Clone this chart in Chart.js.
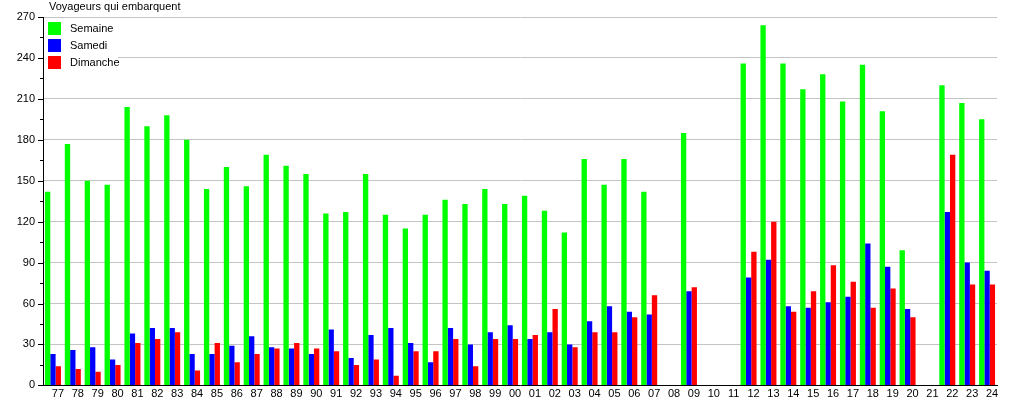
<!DOCTYPE html>
<html><head><meta charset="utf-8">
<script src="https://cdn.jsdelivr.net/npm/chart.js@4/dist/chart.umd.min.js"></script>
<style>html,body{margin:0;padding:0;background:#fff;}canvas{display:block;}</style>
</head><body>
<canvas id="c" width="1015" height="400"></canvas>
<script>
const categories = ['77','78','79','80','81','82','83','84','85','86','87','88','89','90','91','92','93','94','95','96','97','98','99',
  '00','01','02','03','04','05','06','07','08','09','10','11','12','13','14','15','16','17','18','19','20','21','22','23','24'];
const semaine = [142,177,150,147,204,190,198,180,144,160,146,169,161,155,126,127,155,125,115,125,136,133,144,
  133,139,128,112,166,147,166,142,null,185,null,null,236,264,236,217,228,208,235,201,99,null,220,207,195];
const samedi = [23,26,28,19,38,42,42,23,23,29,36,28,27,23,41,20,37,42,31,17,42,30,39,
  44,34,39,30,47,58,54,52,null,69,null,null,79,92,58,57,61,65,104,87,56,null,127,90,84];
const dimanche = [14,12,10,15,31,34,39,11,31,17,23,27,31,27,25,15,19,7,25,25,34,14,34,
  34,37,56,28,39,39,50,66,null,72,null,null,98,120,54,69,88,76,57,71,50,null,169,74,74];
const yTicks = [0,30,60,90,120,150,180,210,240,270];
const yMinorTicks = [15,45,75,105,135,165,195,225,255];
const titleText = 'Voyageurs qui embarquent';

const FONT = "'Liberation Sans', Arial, Helvetica, sans-serif";
Chart.defaults.font.family = FONT;
Chart.defaults.font.size = 11;
Chart.defaults.color = '#000';

const decor = {
  id: 'decor',
  afterDraw(chart) {
    const ctx = chart.ctx;
    const ca = chart.chartArea;
    const y = chart.scales.y;
    ctx.save();
    // axis tick marks
    ctx.strokeStyle = '#000';
    ctx.lineWidth = 1;
    ctx.beginPath();
    yTicks.forEach(v => {
      const p = Math.round(y.getPixelForValue(v)) + 0.5;
      ctx.moveTo(ca.left - 5, p); ctx.lineTo(ca.left, p);
    });
    yMinorTicks.forEach(v => {
      const p = Math.round(y.getPixelForValue(v)) + 0.5;
      ctx.moveTo(ca.left - 3, p); ctx.lineTo(ca.left, p);
    });
    ctx.stroke();
    // title
    ctx.fillStyle = '#000';
    ctx.font = '11px ' + FONT;
    ctx.textBaseline = 'middle';
    ctx.textAlign = 'left';
    ctx.fillText(titleText, 49, 7);
    // legend
    ctx.fillStyle = '#fff';
    ctx.fillRect(ca.left + 1, ca.top + 1, 74, 54);
    chart.data.datasets.forEach((ds, i) => {
      const top = 22 + i * 16.8;
      ctx.fillStyle = ds.backgroundColor;
      ctx.fillRect(48, Math.round(top), 13, 13);
      ctx.fillStyle = '#000';
      ctx.fillText(ds.label, 70, Math.round(top) + 7);
    });
    ctx.restore();
  }
};

new Chart(document.getElementById('c'), {
  type: 'bar',
  data: {
    labels: categories,
    datasets: [
      { label: 'Semaine', data: semaine, backgroundColor: '#00ff00' },
      { label: 'Samedi', data: samedi, backgroundColor: '#0000ff' },
      { label: 'Dimanche', data: dimanche, backgroundColor: '#ff0000' }
    ]
  },
  options: {
    responsive: false,
    animation: false,
    devicePixelRatio: 1,
    layout: { padding: { top: 17, right: 18, left: 0, bottom: 0 } },
    datasets: { bar: { categoryPercentage: 0.805, barPercentage: 1.0, borderWidth: 0 } },
    plugins: { legend: { display: false }, tooltip: { enabled: false }, title: { display: false } },
    scales: {
      x: {
        offset: true,
        grid: { display: false, drawTicks: false },
        border: { display: true, color: '#000', width: 1 },
        ticks: { color: '#000', font: { size: 11 }, labelOffset: 5, padding: 2, maxRotation: 0, minRotation: 0, autoSkip: false },
        afterFit: s => { s.height = 13; }
      },
      y: {
        min: 0, max: 270,
        afterBuildTicks: s => { s.ticks = yTicks.map(v => ({ value: v })); },
        grid: { color: '#c4c4c4', drawTicks: false },
        border: { display: true, color: '#000', width: 1 },
        ticks: { color: '#000', font: { size: 11 }, padding: 8 },
        afterFit: s => { s.width = 43; }
      }
    }
  },
  plugins: [decor]
});
</script>
</body></html>
